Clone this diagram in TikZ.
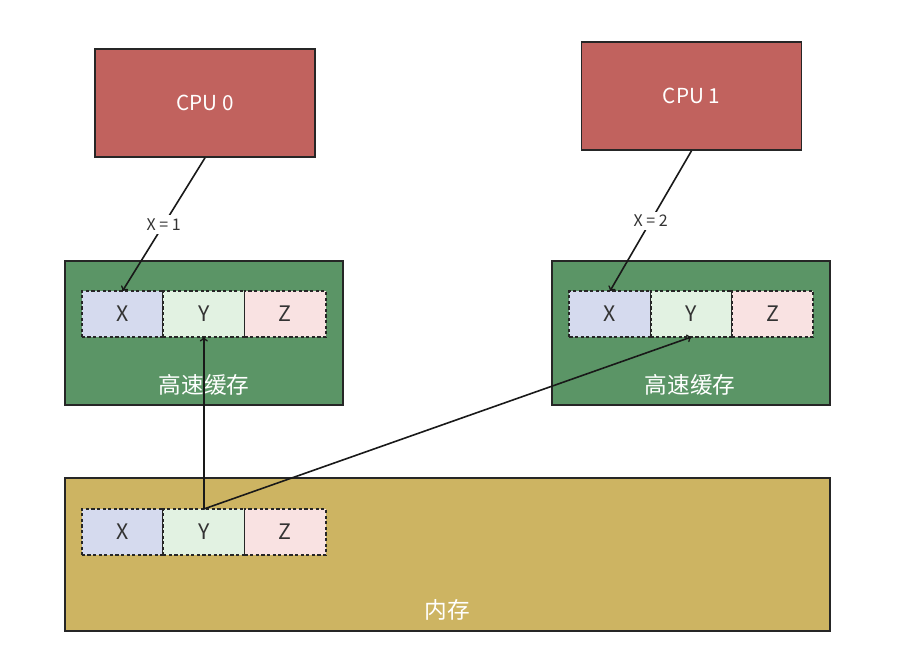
\documentclass[tikz,border=0pt]{standalone}
\usepackage{fontspec}
\setmainfont{Noto Sans CJK SC}
\usepackage{tikz}
\usetikzlibrary{positioning}

\definecolor{cpured}{HTML}{C1625E}
\definecolor{cachegreen}{HTML}{5B9566}
\definecolor{memgold}{HTML}{CDB462}
\definecolor{cellx}{HTML}{D5DAEE}
\definecolor{celly}{HTML}{E2F2E2}
\definecolor{cellz}{HTML}{F9E2E2}
\definecolor{ink}{HTML}{333333}

\begin{document}
\begin{tikzpicture}[
            x=0.75pt, y=-0.75pt,
            cpu/.style={rectangle, draw=black!85, fill=cpured, line width=1.2pt, minimum width=165pt, minimum height=81pt, text=white, font=\fontsize{15.5}{18}\selectfont},
            cache/.style={rectangle, draw=black!85, fill=cachegreen, line width=1.2pt, minimum width=208.5pt, minimum height=108pt},
            mem/.style={rectangle, draw=black!85, fill=memgold, line width=1.2pt, minimum width=573.75pt, minimum height=114.75pt},
            cell/.style={rectangle, draw=black!85, line width=1.3pt, dash pattern=on 2.4pt off 1.8pt, minimum width=61pt, minimum height=34.5pt, outer sep=0pt, inner sep=0pt, text=ink, font=\fontsize{16}{18}\selectfont},
            tag/.style={text=white, font=\fontsize{17}{20}\selectfont},
            val/.style={fill=white, inner sep=2.5pt, text=ink, font=\fontsize{12}{14}\selectfont},
            link/.style={->, line width=1.2pt, black!90},
            node distance=0pt
        ]
            \fill[white] (0,0) rectangle (908,672);
            \useasboundingbox (0,0) rectangle (908,672);

            % processors
            \node[cpu](cpua) at (205,103){CPU 0};
            \node[cpu](cpub) at (691.5,96){CPU 1};

            % caches
            \node[cache](cachea) at (204,333){};
            \node[cache](cacheb) at (691,333){};
            \node[tag](taga) at (204,385){高速缓存};
            \node[tag](tagb) at (690,385){高速缓存};

            % main memory
            \node[mem](mem) at (447.5,554.5){};
            \node[tag](tagm) at (447,610){内存};

            % cache lines
            \node[cell, fill=cellx](xa) at (122.5,314){X};
                \node[cell, fill=celly](ya)[right=of xa]{Y};
                    \node[cell, fill=cellz](za)[right=of ya]{Z};
            \node[cell, fill=cellx](xb) at (610,314){X};
                \node[cell, fill=celly](yb)[right=of xb]{Y};
                    \node[cell, fill=cellz](zb)[right=of yb]{Z};
            \node[cell, fill=cellx](xm) at (122.5,532){X};
                \node[cell, fill=celly](ym)[right=of xm]{Y};
                    \node[cell, fill=cellz](zm)[right=of ym]{Z};

            \draw[link] (cpua.south) -- node[val]{X = 1} (xa.north);
            \draw[link] (cpub.south) -- node[val]{X = 2} (xb.north);
            \draw[link] (ym.north) -- (ya.south);
            \draw[link] (ym.north) -- (yb.south);
        \end{tikzpicture}
\end{document}
